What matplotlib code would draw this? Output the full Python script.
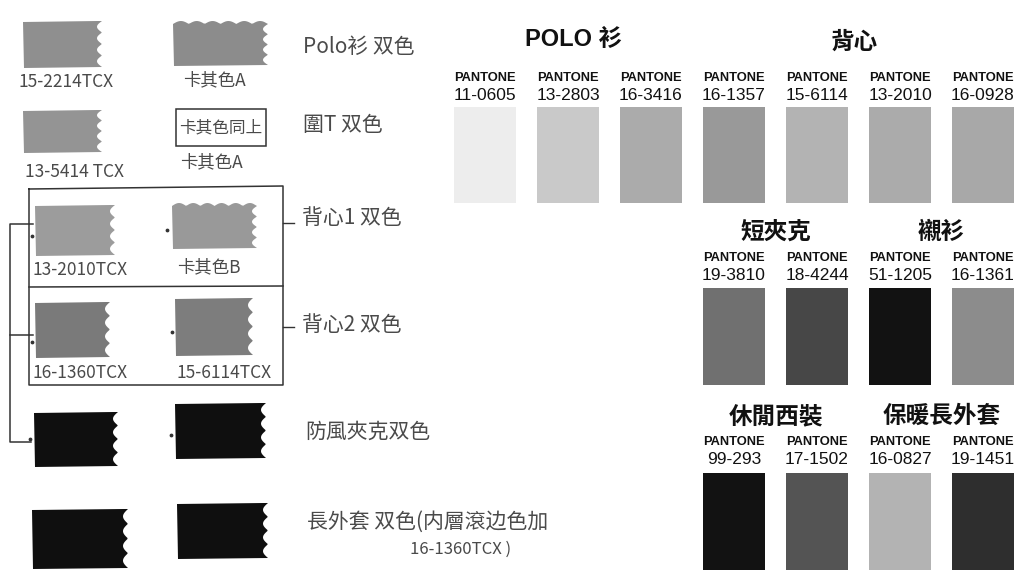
import numpy as np
import matplotlib
matplotlib.use("Agg")
import matplotlib.pyplot as plt
from matplotlib.patches import Polygon, Rectangle

##### data
# right panel: printed pantone cards
group_titles = ["POLO 衫", "背心", "短夾克", "襯衫", "休閒西裝", "保暖長外套"]
row1_codes = ["11-0605", "13-2803", "16-3416", "16-1357", "15-6114", "13-2010", "16-0928"]
row1_grays = [0.93, 0.79, 0.67, 0.60, 0.70, 0.67, 0.66]
row2_codes = ["19-3810", "18-4244", "51-1205", "16-1361"]
row2_grays = [0.44, 0.28, 0.07, 0.55]
row3_codes = ["99-293", "17-1502", "16-0827", "19-1451"]
row3_grays = [0.07, 0.33, 0.70, 0.18]

# left panel: hand drawn marker swatches and notes
left_labels = ["15-2214TCX", "卡其色A", "13-5414 TCX", "卡其色A",
               "13-2010TCX", "卡其色B", "16-1360TCX", "15-6114TCX"]
left_grays = [0.56, 0.55, 0.58, None, 0.61, 0.60, 0.48, 0.49, 0.06, 0.06, 0.06, 0.06]
notes = ["Polo衫 双色", "圍T 双色", "背心1 双色", "背心2 双色", "防風夾克双色", "長外套 双色(内層滾边色加"]
note_extra = "16-1360TCX )"
box_note = "卡其色同上"

W, H = 1027, 575
fig = plt.figure(figsize=(W / 100, H / 100), dpi=100)
ax = fig.add_axes([0, 0, 1, 1])
ax.set_xlim(0, W)
ax.set_ylim(H, 0)
ax.axis("off")

cjk = ["Noto Sans CJK TC", "DejaVu Sans"]
hand = ["Noto Sans CJK SC", "DejaVu Sans"]
ink = "#4a4a4a"


def g(v):
    return (v, v, v)


#### right panel
col_x = 485 + 83 * np.arange(7)
sw_w = 62


def card_row(codes, grays, cols, y_lab, y_top, y_bot):
    for c, v, cx in zip(codes, grays, cols):
        ax.text(cx, y_lab, "PANTONE", ha="center", va="center", fontsize=9.3,
                fontweight="bold", family="Liberation Sans", color="#111")
        ax.text(cx, y_lab + 18, c, ha="center", va="center", fontsize=12.5,
                family="Liberation Sans", color="#111")
        ax.add_patch(Rectangle((cx - sw_w / 2, y_top), sw_w, y_bot - y_top,
                               facecolor=g(v), edgecolor="none"))


card_row(row1_codes, row1_grays, col_x, 78, 107, 203)
card_row(row2_codes, row2_grays, col_x[3:], 258, 288, 385)
card_row(row3_codes, row3_grays, col_x[3:], 442, 473, 570)

title_kw = dict(ha="center", va="center", fontsize=17, fontweight="bold", color="#111")
ax.text(col_x[1] + 6, 40, group_titles[0], family=["Liberation Sans", "Noto Sans CJK TC"], **title_kw)
ax.text((col_x[4] + col_x[5]) / 2 - 4, 42, group_titles[1], family=cjk, **title_kw)
ax.text((col_x[3] + col_x[4]) / 2, 232, group_titles[2], family=cjk, **title_kw)
ax.text((col_x[5] + col_x[6]) / 2, 232, group_titles[3], family=cjk, **title_kw)
ax.text((col_x[3] + col_x[4]) / 2, 416, group_titles[4], family=cjk, **title_kw)
ax.text((col_x[5] + col_x[6]) / 2, 416, group_titles[5], family=cjk, **title_kw)


#### left panel
def marker(x0, y0, x1, y1, v, bumps=4, top=False):
    # marker stroke with a wavy right edge (and optionally a wavy top)
    pts = []
    if top:
        xs = np.linspace(x0, x1 - 4, 60)
        pts += [(x, y0 - 3 * abs(np.sin(np.pi * 6 * (x - x0) / (x1 - x0)))) for x in xs]
    else:
        pts += [(x0, y0 + 1), (x1 - 4, y0)]
    ys = np.linspace(y0, y1, 60)
    pts += [(x1 - 5 * abs(np.sin(np.pi * bumps * (y - y0) / (y1 - y0))), y) for y in ys]
    pts += [(x0 + 1, y1 + 1)]
    ax.add_patch(Polygon(pts, closed=True, facecolor=g(v), edgecolor="none"))


swatch_boxes = [(23, 21, 102, 67, False), (173, 24, 268, 65, True),
                (23, 110, 102, 152, False), None,
                (35, 205, 115, 255, False), (172, 206, 257, 248, True),
                (35, 302, 110, 357, False), (175, 298, 253, 355, False),
                (34, 412, 118, 466, False), (175, 403, 266, 458, False),
                (32, 509, 128, 568, False), (177, 503, 268, 558, False)]
for box, v in zip(swatch_boxes, left_grays):
    if box is None:
        continue
    x0, y0, x1, y1, top = box
    marker(x0, y0, x1, y1, v, top=top)

label_pos = [(18, 82), (183, 80), (25, 172), (180, 162),
             (33, 270), (177, 267), (33, 373), (177, 373)]
for t, (x, y) in zip(left_labels, label_pos):
    ax.text(x, y, t, ha="left", va="center", fontsize=12.5, family=hand,
            fontweight="light", color=ink)

# box around "same as above"
ax.add_patch(Rectangle((176, 109), 90, 37, facecolor="none", edgecolor="#333", lw=1.1))
ax.text(221, 128, box_note, ha="center", va="center", fontsize=12, family=hand,
        fontweight="light", color=ink)

# big box with two vest rows
ax.plot([29, 283, 283, 29, 29], [189, 186, 385, 385, 189], color="#333", lw=1.1)
ax.plot([29, 283], [287, 286], color="#333", lw=1.1)
ax.plot([283, 294], [223, 223], color="#333", lw=1)
ax.plot([283, 294], [327, 327], color="#333", lw=1)

# bracket on the far left
ax.plot([33, 10, 10, 31], [224, 224, 442, 442], color="#333", lw=1.1)
ax.plot([10, 33], [335, 335], color="#333", lw=1.1)
ax.scatter([32, 167, 32, 172, 30, 171], [236, 230, 342, 332, 439, 435], s=3, color="#333")

note_pos = [(303, 47), (303, 125), (302, 218), (302, 325), (305, 432), (307, 522)]
for t, (x, y) in zip(notes, note_pos):
    ax.text(x, y, t, ha="left", va="center", fontsize=15, family=hand,
            fontweight="light", color=ink)
ax.text(410, 549, note_extra, ha="left", va="center", fontsize=12, family=hand,
        fontweight="light", color=ink)

fig.savefig("out.png", dpi=100, facecolor="white")
